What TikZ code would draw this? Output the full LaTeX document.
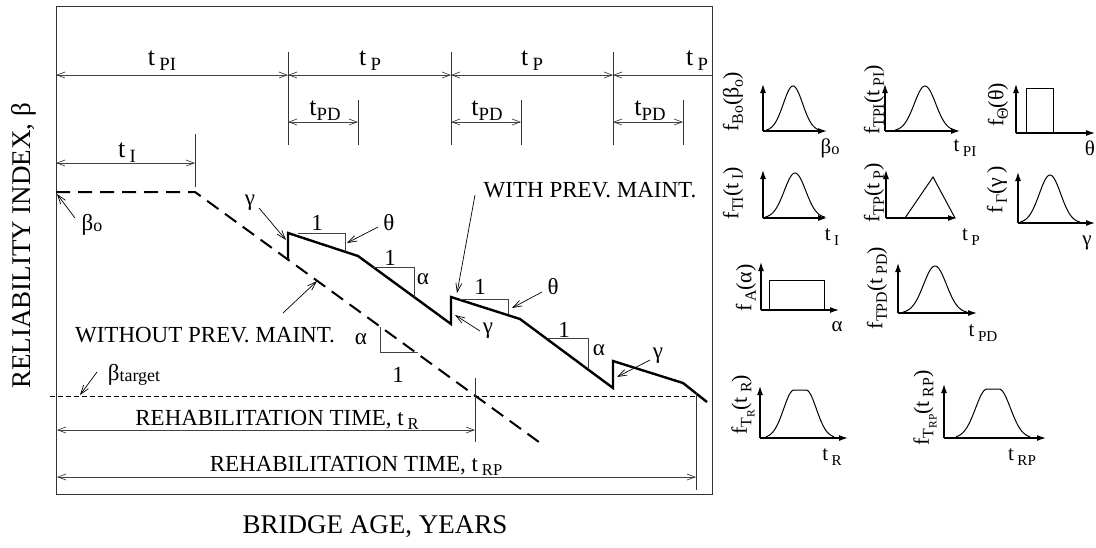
\documentclass[tikz,border=0pt]{standalone}
\usepackage{fontspec}
\usepackage{graphicx}
\setmainfont{Liberation Serif}
\usetikzlibrary{arrows.meta}
\newcommand\sbs[1]{\raisebox{-0.45ex}{\scalebox{0.72}{#1}}}
\newcommand\sbl[1]{\raisebox{-0.15ex}{\scalebox{0.78}{#1}}}
% Gaussian: center x, base y, half width, height
\newcommand\gausscurve[4]{%
  \draw[pdf] plot[domain=-#3:#3, samples=61, smooth]
    ({#1+\x},{#2-#4*exp(-0.5*(\x*2.8/#3)*(\x*2.8/#3))});}
% flat-top curve: center x, base y, half width, height, flat half width
\newcommand\flatcurve[5]{%
  \draw[pdf] plot[domain=-#3:#3, samples=81, smooth]
    ({#1+\x},{#2-#4*exp(-0.5*(max(abs(\x)-#5,0)*2.7/(#3-#5))*(max(abs(\x)-#5,0)*2.7/(#3-#5)))});}
\begin{document}
\begin{tikzpicture}[x=0.5pt,y=-0.5pt,
  every node/.style={inner sep=0pt, outer sep=0pt},
  lbl/.style={font=\fontsize{11.5}{13}\selectfont},
  tlbl/.style={font=\fontsize{13}{15}\selectfont},
  axlbl/.style={font=\fontsize{13.5}{15}\selectfont},
  small/.style={font=\fontsize{10.5}{12}\selectfont},
  rlbl/.style={font=\fontsize{11}{12}\selectfont, rotate=90},
  frame/.style={line width=0.5pt, draw=black!80},
  tick/.style={line width=0.4pt, draw=black!80},
  dim/.style={line width=0.35pt, draw=black!75, {Straight Barb[length=4pt,width=3pt]}-{Straight Barb[length=4pt,width=3pt]}},
  ldim/.style={line width=0.35pt, draw=black!75, {Straight Barb[length=4pt,width=3pt]}-},
  ptr/.style={line width=0.35pt, draw=black, -{Straight Barb[length=4.5pt,width=3pt]}},
  tri/.style={line width=0.4pt, draw=black!75},
  nomaint/.style={line width=1pt, dash pattern=on 7pt off 4pt},
  maint/.style={line width=1.2pt, line join=miter},
  target/.style={line width=0.4pt, dash pattern=on 2.5pt off 1.5pt},
  axis/.style={line width=0.6pt, -{Latex[length=4.5pt,width=3pt]}},
  pdf/.style={line width=0.5pt},
]
\useasboundingbox (0,0) rectangle (1096,547);

% frame
\draw[frame] (56,6) rectangle (712,494);

% axis labels
\node[axlbl, rotate=90] (ylab) at (24,246) {RELIABILITY INDEX, β};
\node[axlbl, anchor=base] (xlab) at (375,533) {BRIDGE AGE, YEARS};

% ---------- top dimension lines ----------
\coordinate (L75) at (56,75);
\coordinate (A75) at (288,75);
\coordinate (B75) at (451,75);
\coordinate (C75) at (613,75);
\coordinate (R75) at (712,75);
\draw[dim] (L75) -- (A75);
\draw[dim] (A75) -- (B75);
\draw[dim] (B75) -- (C75);
\draw[ldim] (C75) -- (R75);
\coordinate (At) at (288,52); \coordinate (Ab) at (288,145);
\coordinate (Bt) at (451,52); \coordinate (Bb) at (451,145);
\coordinate (Ct) at (613,52); \coordinate (Cb) at (613,145);
\draw[tick] (At) -- (Ab);
\draw[tick] (Bt) -- (Bb);
\draw[tick] (Ct) -- (Cb);
\node[tlbl, anchor=base] (tpi) at (162,65) {t\,\sbs{PI}};
\node[tlbl, anchor=base] (tp1) at (370,65) {t\,\sbs{P}};
\node[tlbl, anchor=base] (tp2) at (532,65) {t\,\sbs{P}};
\node[tlbl, anchor=base] (tp3) at (697,65) {t\,\sbs{P}};

% tPD
\coordinate (A122) at (288,122); \coordinate (D1) at (358,122);
\coordinate (B122) at (451,122); \coordinate (D2) at (521,122);
\coordinate (C122) at (613,122); \coordinate (D3) at (683,122);
\draw[dim] (A122) -- (D1);
\draw[dim] (B122) -- (D2);
\draw[dim] (C122) -- (D3);
\coordinate (D1t) at (358,100); \coordinate (D1b) at (358,145);
\coordinate (D2t) at (521,100); \coordinate (D2b) at (521,145);
\coordinate (D3t) at (683,100); \coordinate (D3b) at (683,145);
\draw[tick] (D1t) -- (D1b);
\draw[tick] (D2t) -- (D2b);
\draw[tick] (D3t) -- (D3b);
\node[tlbl, anchor=base] (tpd1) at (325,115) {t\sbs{PD}};
\node[tlbl, anchor=base] (tpd2) at (487,115) {t\sbs{PD}};
\node[tlbl, anchor=base] (tpd3) at (650,115) {t\sbs{PD}};

% tI
\coordinate (I0) at (56,163); \coordinate (I1) at (195,163);
\draw[dim] (I0) -- (I1);
\coordinate (It) at (195,134); \coordinate (Ib) at (195,187);
\draw[tick] (It) -- (Ib);
\node[tlbl, anchor=base] (ti) at (127,157) {t\,\sbs{I}};

% ---------- curves ----------
\coordinate (b0) at (56,192);
\coordinate (bI) at (195,192);
\coordinate (bE) at (543,445);
\draw[nomaint] (b0) -- (bI) -- (bE);

\coordinate (m0) at (288,260);
\coordinate (m1) at (288,233);
\coordinate (m2) at (358,256);
\coordinate (m3) at (451,324);
\coordinate (m4) at (451,297);
\coordinate (m5) at (520,319);
\coordinate (m6) at (613,388);
\coordinate (m7) at (613,361);
\coordinate (m8) at (683,383);
\coordinate (m9) at (707,402);
\draw[maint] (m0) -- (m1) -- (m2) -- (m3) -- (m4) -- (m5) -- (m6) -- (m7) -- (m8) -- (m9);

% target line
\coordinate (tg0) at (50,396); \coordinate (tg1) at (696,396);
\draw[target] (tg0) -- (tg1);

% slope triangles
\draw[tri] (298,233) -- (345,233) -- (345,252);
\draw[tri] (373,267) -- (414,267) -- (414,297);
\draw[tri] (460,299) -- (508,299) -- (508,314);
\draw[tri] (548,338) -- (588,338) -- (588,368);
\draw[tri] (380,327) -- (380,352) -- (418,352);

\node[lbl] (one1) at (317,223) {1};
\node[lbl] (th1) at (389,223) {θ};
\node[lbl] (one2) at (390,258) {1};
\node[lbl] (al1) at (423,279) {α};
\node[lbl] (one3) at (480,287) {1};
\node[lbl] (th2) at (553,287) {θ};
\node[lbl] (one4) at (564,330) {1};
\node[lbl] (al2) at (599,350) {α};
\node[lbl] (al3) at (361,339) {α};
\node[lbl] (one5) at (398,375) {1};
\node[lbl] (ga1) at (250,203) {γ};
\node[lbl] (ga2) at (488,331) {γ};
\node[lbl] (ga3) at (658,356) {γ};

\node[lbl] (with) at (590,190) {WITH PREV. MAINT.};
\node[lbl] (without) at (205,335) {WITHOUT PREV. MAINT.};
\node[lbl, anchor=base] (bo) at (92,230) {β\sbl{o}};
\node[lbl, anchor=base] (btg) at (134,380) {β\sbl{target}};

% pointers
\coordinate (p1s) at (75,218); \coordinate (p1e) at (57,194);
\coordinate (p2s) at (97,372); \coordinate (p2e) at (80,395);
\coordinate (p3s) at (259,208); \coordinate (p3e) at (286,240);
\coordinate (p4s) at (378,227); \coordinate (p4e) at (347,243);
\coordinate (p5s) at (283,313); \coordinate (p5e) at (317,281);
\coordinate (p6s) at (475,195); \coordinate (p6e) at (457,293);
\coordinate (p7s) at (542,292); \coordinate (p7e) at (512,308);
\coordinate (p8s) at (480,331); \coordinate (p8e) at (455,315);
\coordinate (p9s) at (650,360); \coordinate (p9e) at (617,377);
\draw[ptr] (p1s) -- (p1e);
\draw[ptr] (p2s) -- (p2e);
\draw[ptr] (p3s) -- (p3e);
\draw[ptr] (p4s) -- (p4e);
\draw[ptr] (p5s) -- (p5e);
\draw[ptr] (p6s) -- (p6e);
\draw[ptr] (p7s) -- (p7e);
\draw[ptr] (p8s) -- (p8e);
\draw[ptr] (p9s) -- (p9e);

% rehabilitation times
\coordinate (r0) at (57,430); \coordinate (r1) at (475,430);
\coordinate (rp0) at (57,477); \coordinate (rp1) at (696,477);
\draw[dim] (r0) -- (r1);
\draw[dim] (rp0) -- (rp1);
\coordinate (rt) at (475,378); \coordinate (rb) at (475,442);
\coordinate (rpt) at (696,392); \coordinate (rpb) at (696,490);
\draw[tick] (rt) -- (rb);
\draw[tick] (rpt) -- (rpb);
\node[lbl, anchor=base] (rtxt) at (277,425) {REHABILITATION TIME, t\,\sbs{R}};
\node[lbl, anchor=base] (rptxt) at (356,471) {REHABILITATION TIME, t\,\sbs{RP}};

% ---------- small plots ----------
% P1
\draw[axis] (763,131) -- (763,84);
\draw[axis] (763,131) -- (827,131);
\gausscurve{793}{131}{27}{45}
\node[rlbl] (f1) at (733,102) {f\sbs{Bo}(β\sbs{o})};
\node[small] (x1) at (830,148) {β\sbl{o}};
% P2
\draw[axis] (885,131) -- (885,84);
\draw[axis] (885,131) -- (960,131);
\gausscurve{925}{131}{30}{45}
\node[rlbl] (f2) at (874,100) {f\sbs{TPI}(t\sbs{ PI})};
\node[small] (x2) at (965,148) {t\,\sbs{PI}};
% P3
\draw[axis] (1016,133) -- (1016,84);
\draw[axis] (1016,133) -- (1095,133);
\draw[pdf] (1026,133) -- (1026,88) -- (1053,88) -- (1053,133);
\node[rlbl] (f3) at (998,105) {f\sbs{Θ}(θ)};
\node[small] (x3) at (1090,148) {θ};
% P4
\draw[axis] (763,218) -- (763,170);
\draw[axis] (763,218) -- (827,218);
\gausscurve{795}{218}{30}{45}
\node[rlbl] (f4) at (733,193) {f\sbs{TI}(t\sbs{ I})};
\node[small] (x4) at (832,237) {t\,\sbs{I}};
% P5
\draw[axis] (886,218) -- (886,170);
\draw[axis] (886,218) -- (957,218);
\draw[pdf] (905,218) -- (933,177) -- (955,218);
\node[rlbl] (f5) at (874,193) {f\sbs{TP}(t\sbs{ P})};
\node[small] (x5) at (971,237) {t\,\sbs{P}};
% P6
\draw[axis] (1018,223) -- (1018,172);
\draw[axis] (1018,223) -- (1095,223);
\gausscurve{1050}{223}{30}{48}
\node[rlbl] (f6) at (997,190) {f\sbs{\,Γ}(γ\,)};
\node[small] (x6) at (1087,243) {γ};
% P7
\draw[axis] (761,310) -- (761,262);
\draw[axis] (761,310) -- (839,310);
\draw[pdf] (769,310) -- (769,280) -- (824,280) -- (824,310);
\node[rlbl] (f7) at (746,288) {f\sbs{\,A}(α)};
\node[small] (x7) at (837,327) {α};
% P8
\draw[axis] (898,313) -- (898,263);
\draw[axis] (898,313) -- (977,313);
\gausscurve{935}{313}{32}{47}
\node[rlbl] (f8) at (877,288) {f\sbs{TPD}(t\sbs{ PD})};
\node[small] (x8) at (983,333) {t\,\sbs{PD}};
% P9
\draw[axis] (760,438) -- (760,386);
\draw[axis] (760,438) -- (848,438);
\flatcurve{800}{438}{34}{48}{6}
\node[rlbl] (f9) at (743,405) {f\sbs{T\sbs{R}}(t\sbs{ R})};
\node[small] (x9) at (832,457) {t\,\sbs{R}};
% P10
\draw[axis] (944,438) -- (944,384);
\draw[axis] (944,438) -- (1046,438);
\flatcurve{993}{438}{37}{49}{6}
\node[rlbl] (f10) at (925,408) {f\sbs{T\sbs{RP}}(t\sbs{ RP})};
\node[small] (x10) at (1022,457) {t\,\sbs{RP}};
\end{tikzpicture}
\end{document}
